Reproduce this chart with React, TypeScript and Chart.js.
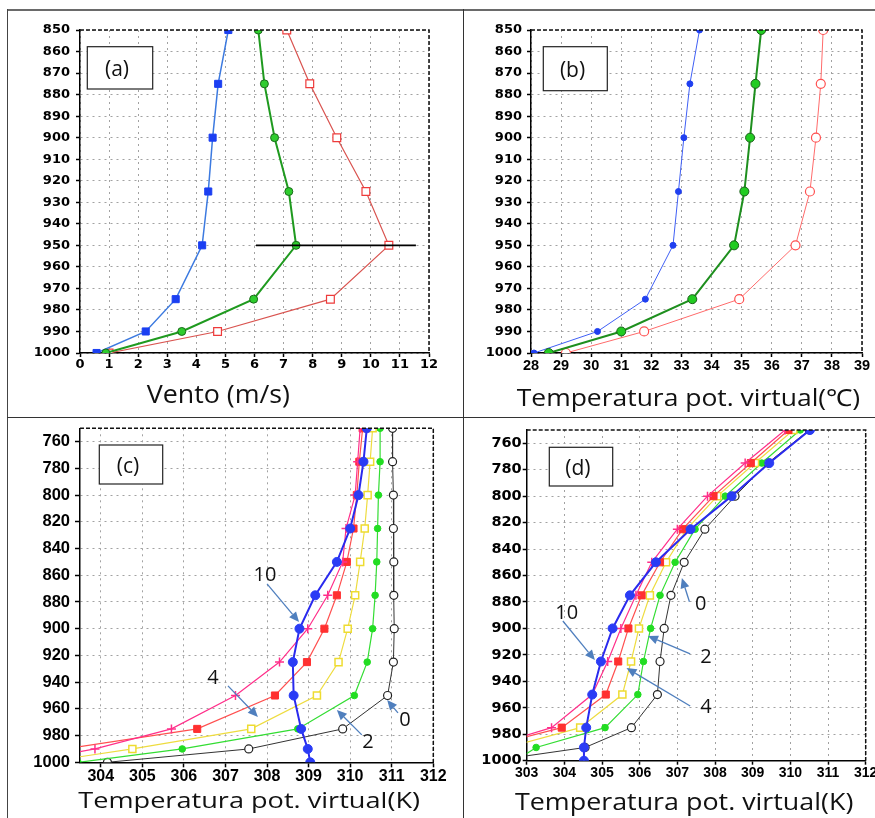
import React, { useEffect, useRef } from 'react';
import { Chart, registerables } from 'chart.js';

Chart.register(...registerables);

// ---------------- data ----------------
// (a) wind speed (m/s) vs pressure (hPa)
const A_LEVELS = [850, 875, 900, 925, 950, 975, 990, 1000];
const A_BLUE = [5.1, 4.75, 4.56, 4.41, 4.2, 3.29, 2.26, 0.57];
const A_GREEN = [6.13, 6.34, 6.69, 7.18, 7.43, 5.97, 3.5, 0.89];
const A_RED = [7.11, 7.9, 8.83, 9.83, 10.62, 8.61, 4.73, 1.0];
const A_MARK_LEVELS = [950, 950];
const A_MARK_WIND = [6.05, 11.55];

// (b) virtual potential temperature (°C)
const B_LEVELS = [850, 875, 900, 925, 950, 975, 990, 1000];
const B_BLUE = [33.6, 33.28, 33.08, 32.9, 32.72, 31.8, 30.21, 28.1];
const B_GREEN = [35.65, 35.46, 35.28, 35.09, 34.75, 33.36, 31.0, 28.59];
const B_RED = [37.71, 37.63, 37.47, 37.27, 36.79, 34.92, 31.76, 29.16];

// (c) virtual potential temperature (K)
const C_LEVELS = [750, 775, 800, 825, 850, 875, 900, 925, 950, 975, 990, 1000];
const C_0 = [311.02, 311.02, 311.04, 311.04, 311.05, 311.05, 311.06, 311.04, 310.9, 309.82, 307.56, 304.16];
const C_2 = [310.72, 310.72, 310.68, 310.66, 310.64, 310.6, 310.54, 310.41, 310.1, 308.74, 305.96, 303.45];
const C_4 = [310.54, 310.48, 310.42, 310.35, 310.24, 310.12, 309.94, 309.72, 309.2, 307.62, 304.76, 302.6];
const C_6 = [310.3, 310.22, 310.16, 310.08, 309.92, 309.68, 309.38, 308.96, 308.19, 306.32, 303.15, 302.5];
const C_8 = [310.24, 310.18, 310.12, 309.9, 309.82, 309.46, 308.98, 308.3, 307.24, 305.7, 303.86, 302.1];
const C_10 = [310.4, 310.32, 310.2, 310.0, 309.68, 309.16, 308.78, 308.62, 308.64, 308.82, 308.98, 309.04];

// (d) virtual potential temperature (K)
const D_LEVELS = [750, 775, 800, 825, 850, 875, 900, 925, 950, 975, 990, 1000];
const D_0 = [310.5, 309.4, 308.53, 307.73, 307.18, 306.83, 306.65, 306.54, 306.47, 305.78, 304.55, 302.1];
const D_2 = [310.26, 309.24, 308.27, 307.47, 306.94, 306.54, 306.29, 306.1, 305.95, 305.08, 303.25, 302.7];
const D_4 = [310.08, 309.06, 308.06, 307.25, 306.7, 306.27, 305.98, 305.77, 305.54, 304.42, 302.5, 302.0];
const D_6 = [309.95, 308.95, 307.96, 307.14, 306.54, 306.05, 305.7, 305.43, 305.1, 303.93, 301.9, 301.5];
const D_8 = [309.86, 308.8, 307.8, 307.0, 306.32, 305.9, 305.5, 305.15, 304.74, 303.66, 301.9, 301.5];
const D_10 = [310.52, 309.44, 308.44, 307.35, 306.43, 305.74, 305.28, 304.97, 304.74, 304.58, 304.52, 304.52];

// tick labels
const AB_Y_TICKS = [850, 860, 870, 880, 890, 900, 910, 920, 930, 940, 950, 960, 970, 980, 990, 1000];
const A_X_TICKS = [0, 1, 2, 3, 4, 5, 6, 7, 8, 9, 10, 11, 12];
const B_X_TICKS = [28, 29, 30, 31, 32, 33, 34, 35, 36, 37, 38, 39];
const CD_Y_TICKS = [760, 780, 800, 820, 840, 860, 880, 900, 920, 940, 960, 980, 1000];
const C_X_TICKS = [304, 305, 306, 307, 308, 309, 310, 311, 312];
const D_X_TICKS = [303, 304, 305, 306, 307, 308, 309, 310, 311, 312];

// texts
const TITLE_A = 'Vento (m/s)';
const TITLE_B = 'Temperatura pot. virtual(℃)';
const TITLE_CD = 'Temperatura pot. virtual(K)';

// arrow annotations (data coordinates: [temperature, pressure])
const C_NOTES = [
  { text: '10', at: [307.95, 859.8], from: [308.0, 866.5], to: [308.77, 895] },
  { text: '4', at: [306.7, 936.8], from: [307.06, 942.8], to: [307.78, 966] },
  { text: '2', at: [310.43, 984.7], from: [310.28, 979.5], to: [309.68, 960.8] },
  { text: '0', at: [311.32, 968.3], from: [311.15, 963], to: [310.89, 953.3] },
];
const D_NOTES = [
  { text: '0', at: [307.62, 881.6], from: [307.32, 879.8], to: [307.12, 861.9] },
  { text: '10', at: [304.06, 888.3], from: [303.96, 894.4], to: [304.81, 923.9] },
  { text: '2', at: [307.76, 921.6], from: [307.34, 919.3], to: [306.22, 905.7] },
  { text: '4', at: [307.76, 959.4], from: [307.34, 958.6], to: [305.65, 929.9] },
];

// ---------------- styles ----------------
type Style = { line: string; width: number; point: any; radius: number; fill: string; stroke: string; pw: number };
const ST: Record<string, Style> = {
  aBlue: { line: '#3c7ae0', width: 1.5, point: 'rect', radius: 5, fill: '#1b3ff2', stroke: '#1b3ff2', pw: 1 },
  aGreen: { line: '#1f9a1f', width: 2, point: 'circle', radius: 4, fill: '#2ecc2e', stroke: '#1a6a1a', pw: 1 },
  aRed: { line: '#d9534f', width: 1.2, point: 'rect', radius: 5.5, fill: '#ffffff', stroke: '#ee3b3b', pw: 1.2 },
  aMark: { line: '#000000', width: 1.6, point: 'circle', radius: 0, fill: '#000', stroke: '#000', pw: 0 },
  bBlue: { line: '#3f5ff5', width: 1, point: 'circle', radius: 3, fill: '#1f3ff0', stroke: '#1f3ff0', pw: 1 },
  bGreen: { line: '#1e8f1e', width: 2, point: 'circle', radius: 4.5, fill: '#22cc22', stroke: '#1a5e1a', pw: 1 },
  bRed: { line: '#ff6b6b', width: 1, point: 'circle', radius: 4.5, fill: '#ffffff', stroke: '#ff5050', pw: 1.2 },
  k0: { line: '#333333', width: 1, point: 'circle', radius: 4, fill: '#ffffff', stroke: '#222222', pw: 1.2 },
  k2: { line: '#33dd33', width: 1.2, point: 'circle', radius: 3.3, fill: '#22dd22', stroke: '#22dd22', pw: 1 },
  k4: { line: '#eedc40', width: 1.2, point: 'rect', radius: 5, fill: '#ffffff', stroke: '#eedc30', pw: 1.5 },
  k6: { line: '#ff5050', width: 1.2, point: 'rect', radius: 5, fill: '#ff3030', stroke: '#ff3030', pw: 1 },
  k8: { line: '#ff2f8a', width: 1.2, point: 'cross', radius: 4.5, fill: '#ff2f8a', stroke: '#ff2f8a', pw: 1.5 },
  k10: { line: '#2a2aee', width: 2, point: 'circle', radius: 4.5, fill: '#2a3cf5', stroke: '#2a3cf5', pw: 1 },
};

const fontDV = (size: number) => ({ family: 'DejaVu Sans', size, weight: 'bold' as const });
const fontLS = (size: number) => ({ family: 'Liberation Sans', size, weight: 'bold' as const });

const PANELS: any[] = [
  {
    id: 'a',
    box: { left: 0, top: 0, width: 463, height: 416 },
    area: { l: 80, t: 30, r: 429, b: 353 },
    x: { min: 0, max: 12, ticks: A_X_TICKS, font: fontDV(13), pad: 0, tl: 4 },
    y: { min: 850, max: 1000, ticks: AB_Y_TICKS, font: fontDV(13), pad: 6, tl: 4 },
    series: [
      { levels: A_MARK_LEVELS, values: A_MARK_WIND, style: ST.aMark },
      { levels: A_LEVELS, values: A_GREEN, style: ST.aGreen },
      { levels: A_LEVELS, values: A_BLUE, style: ST.aBlue },
      { levels: A_LEVELS, values: A_RED, style: ST.aRed },
    ],
    tag: { l: 87.3, t: 46.7, r: 152.7, b: 89, text: '(a)', cx: 117, cy: 70 },
    title: { text: TITLE_A, x: 146.7, base: 403.3, w: 143.3, size: 25.6 },
    notes: [],
  },
  {
    id: 'b',
    box: { left: 463, top: 0, width: 412, height: 416 },
    area: { l: 531, t: 30, r: 862, b: 353 },
    x: { min: 28, max: 39, ticks: B_X_TICKS, font: fontLS(14.5), pad: 0, tl: 4 },
    y: { min: 850, max: 1000, ticks: AB_Y_TICKS, font: fontDV(13), pad: 5, tl: 4 },
    series: [
      { levels: B_LEVELS, values: B_GREEN, style: ST.bGreen },
      { levels: B_LEVELS, values: B_BLUE, style: ST.bBlue },
      { levels: B_LEVELS, values: B_RED, style: ST.bRed },
    ],
    tag: { l: 543.3, t: 46.7, r: 607.3, b: 90.7, text: '(b)', cx: 572.5, cy: 71 },
    title: { text: TITLE_B, x: 516.7, base: 406, w: 343.3, size: 23.4 },
    notes: [],
  },
  {
    id: 'c',
    box: { left: 0, top: 400, width: 463, height: 418 },
    area: { l: 80, t: 428.3, r: 433.3, b: 762.3 },
    x: { min: 303.5, max: 312, ticks: C_X_TICKS, font: fontLS(16), pad: 0, tl: 5 },
    y: { min: 750, max: 1000, ticks: CD_Y_TICKS, font: fontLS(16.5), pad: 5, tl: 5 },
    series: [
      { levels: C_LEVELS, values: C_10, style: ST.k10 },
      { levels: C_LEVELS, values: C_8, style: ST.k8 },
      { levels: C_LEVELS, values: C_6, style: ST.k6 },
      { levels: C_LEVELS, values: C_4, style: ST.k4 },
      { levels: C_LEVELS, values: C_2, style: ST.k2 },
      { levels: C_LEVELS, values: C_0, style: ST.k0 },
    ],
    tag: { l: 99.3, t: 445, r: 162.7, b: 484, text: '(c)', cx: 128, cy: 467.5 },
    title: { text: TITLE_CD, x: 78.3, base: 808.3, w: 341.7, size: 22 },
    notes: C_NOTES,
  },
  {
    id: 'd',
    box: { left: 463, top: 400, width: 430, height: 418 },
    area: { l: 526.7, t: 430, r: 865.7, b: 760.7 },
    x: { min: 303, max: 312, ticks: D_X_TICKS, font: fontLS(14), pad: 0, tl: 4 },
    y: { min: 750, max: 1000, ticks: CD_Y_TICKS, font: fontDV(14.5), pad: 1, tl: 4 },
    series: [
      { levels: D_LEVELS, values: D_10, style: ST.k10 },
      { levels: D_LEVELS, values: D_8, style: ST.k8 },
      { levels: D_LEVELS, values: D_6, style: ST.k6 },
      { levels: D_LEVELS, values: D_4, style: ST.k4 },
      { levels: D_LEVELS, values: D_2, style: ST.k2 },
      { levels: D_LEVELS, values: D_0, style: ST.k0 },
    ],
    tag: { l: 549.3, t: 447.3, r: 612.7, b: 486, text: '(d)', cx: 577.8, cy: 469 },
    title: { text: TITLE_CD, x: 515, base: 810, w: 338.3, size: 23.4 },
    notes: D_NOTES,
  },
];

// ---------------- chart building ----------------
function makeDataset(levels: number[], values: number[], st: Style) {
  return {
    data: values.map((v, i) => ({ x: v, y: levels[i] })),
    borderColor: st.line,
    borderWidth: st.width,
    pointStyle: st.point,
    pointRadius: st.radius,
    pointHoverRadius: st.radius,
    pointBackgroundColor: st.fill,
    pointBorderColor: st.stroke,
    pointBorderWidth: st.pw,
    tension: 0,
    fill: false,
  };
}

function makeDecor(p: any) {
  const ox = p.box.left;
  const oy = p.box.top;
  return {
    id: 'decor',
    afterDatasetsDraw(chart: any) {
      const ctx = chart.ctx;
      const a = chart.chartArea;
      const xs = chart.scales.x;
      const ys = chart.scales.y;
      ctx.save();
      ctx.strokeStyle = '#111';
      ctx.lineWidth = 1.5;
      ctx.setLineDash([4, 2]);
      ctx.beginPath();
      ctx.moveTo(a.left, a.top);
      ctx.lineTo(a.right, a.top);
      ctx.lineTo(a.right, a.bottom);
      ctx.stroke();
      ctx.restore();

      p.notes.forEach((n: any) => {
        const x1 = xs.getPixelForValue(n.from[0]);
        const y1 = ys.getPixelForValue(n.from[1]);
        const x2 = xs.getPixelForValue(n.to[0]);
        const y2 = ys.getPixelForValue(n.to[1]);
        const ang = Math.atan2(y2 - y1, x2 - x1);
        const hl = 10;
        const hw = 4.5;
        const bx = x2 - hl * Math.cos(ang);
        const by = y2 - hl * Math.sin(ang);
        ctx.save();
        ctx.strokeStyle = '#4f7fbe';
        ctx.fillStyle = '#4f7fbe';
        ctx.lineWidth = 1.3;
        ctx.beginPath();
        ctx.moveTo(x1, y1);
        ctx.lineTo(bx, by);
        ctx.stroke();
        ctx.beginPath();
        ctx.moveTo(x2, y2);
        ctx.lineTo(bx - hw * Math.sin(ang), by + hw * Math.cos(ang));
        ctx.lineTo(bx + hw * Math.sin(ang), by - hw * Math.cos(ang));
        ctx.closePath();
        ctx.fill();
        ctx.restore();
        ctx.save();
        ctx.fillStyle = '#111';
        ctx.font = '20px "Open Sans"';
        ctx.textAlign = 'center';
        ctx.textBaseline = 'middle';
        ctx.fillText(n.text, xs.getPixelForValue(n.at[0]), ys.getPixelForValue(n.at[1]));
        ctx.restore();
      });
    },
    afterDraw(chart: any) {
      const ctx = chart.ctx;
      const b = p.tag;
      ctx.save();
      ctx.fillStyle = '#ffffff';
      ctx.fillRect(b.l - ox, b.t - oy, b.r - b.l, b.b - b.t);
      ctx.strokeStyle = '#222';
      ctx.lineWidth = 1.2;
      ctx.strokeRect(b.l - ox, b.t - oy, b.r - b.l, b.b - b.t);
      ctx.fillStyle = '#111';
      ctx.font = '21px "Open Sans"';
      ctx.textAlign = 'center';
      ctx.textBaseline = 'middle';
      ctx.fillText(b.text, b.cx - ox, b.cy - oy);
      ctx.restore();

      const t = p.title;
      ctx.save();
      ctx.font = `${t.size}px "Open Sans"`;
      const w = ctx.measureText(t.text).width;
      ctx.translate(t.x - ox, t.base - oy);
      ctx.scale(t.w / w, 1);
      ctx.fillStyle = '#111';
      ctx.textAlign = 'left';
      ctx.textBaseline = 'alphabetic';
      ctx.fillText(t.text, 0, 0);
      ctx.restore();
    },
  };
}

function buildConfig(p: any): any {
  const X_AXIS_H = 30;
  const pad = {
    left: 0,
    top: p.area.t - p.box.top,
    right: p.box.left + p.box.width - p.area.r,
    bottom: p.box.top + p.box.height - p.area.b - X_AXIS_H,
  };
  const grid = { color: '#a2a2a2', lineWidth: 1, drawTicks: true, tickColor: '#000', tickWidth: 1.5 };
  const border = { display: true, color: '#000', width: 1.5, dash: [2, 4] };
  return {
    type: 'line',
    data: { datasets: p.series.map((s: any) => makeDataset(s.levels, s.values, s.style)) },
    options: {
      animation: false,
      responsive: false,
      maintainAspectRatio: false,
      events: [],
      layout: { padding: pad },
      plugins: { legend: { display: false }, tooltip: { enabled: false }, title: { display: false } },
      scales: {
        x: {
          type: 'linear',
          position: 'bottom',
          min: p.x.min,
          max: p.x.max,
          afterBuildTicks: (s: any) => {
            s.ticks = p.x.ticks.map((v: number) => ({ value: v }));
          },
          afterFit: (s: any) => {
            s.height = X_AXIS_H;
          },
          ticks: {
            autoSkip: false,
            maxRotation: 0,
            minRotation: 0,
            padding: p.x.pad,
            color: '#000',
            font: p.x.font,
            callback: (v: any) => String(v),
          },
          grid: { ...grid, tickLength: p.x.tl },
          border,
        },
        y: {
          type: 'linear',
          position: 'left',
          reverse: true,
          min: p.y.min,
          max: p.y.max,
          afterBuildTicks: (s: any) => {
            s.ticks = p.y.ticks.map((v: number) => ({ value: v }));
          },
          afterFit: (s: any) => {
            s.width = p.area.l - p.box.left;
          },
          ticks: {
            autoSkip: false,
            padding: p.y.pad,
            color: '#000',
            font: p.y.font,
            callback: (v: any) => String(v),
          },
          grid: { ...grid, tickLength: p.y.tl },
          border,
        },
      },
    },
    plugins: [makeDecor(p)],
  };
}

function PanelChart({ spec }: { spec: any }) {
  const ref = useRef<HTMLCanvasElement | null>(null);
  useEffect(() => {
    if (!ref.current) return;
    const chart = new Chart(ref.current, buildConfig(spec));
    return () => chart.destroy();
  }, [spec]);
  return (
    <canvas
      ref={ref}
      width={spec.box.width}
      height={spec.box.height}
      style={{ position: 'absolute', left: spec.box.left, top: spec.box.top, width: spec.box.width, height: spec.box.height }}
    />
  );
}

export default function App() {
  const line = (s: React.CSSProperties) => <div style={{ position: 'absolute', ...s }} />;
  return (
    <div style={{ position: 'absolute', left: 0, top: 0, width: 875, height: 818, overflow: 'hidden', background: '#fff' }}>
      {PANELS.map((p) => (
        <PanelChart key={p.id} spec={p} />
      ))}
      {line({ left: 7, top: 9, width: 868, height: 2, background: '#6a6a6a' })}
      {line({ left: 7, top: 9, width: 1, height: 809, background: '#444' })}
      {line({ left: 463, top: 9, width: 1, height: 809, background: '#333' })}
      {line({ left: 7, top: 417, width: 868, height: 1, background: '#333' })}
    </div>
  );
}
